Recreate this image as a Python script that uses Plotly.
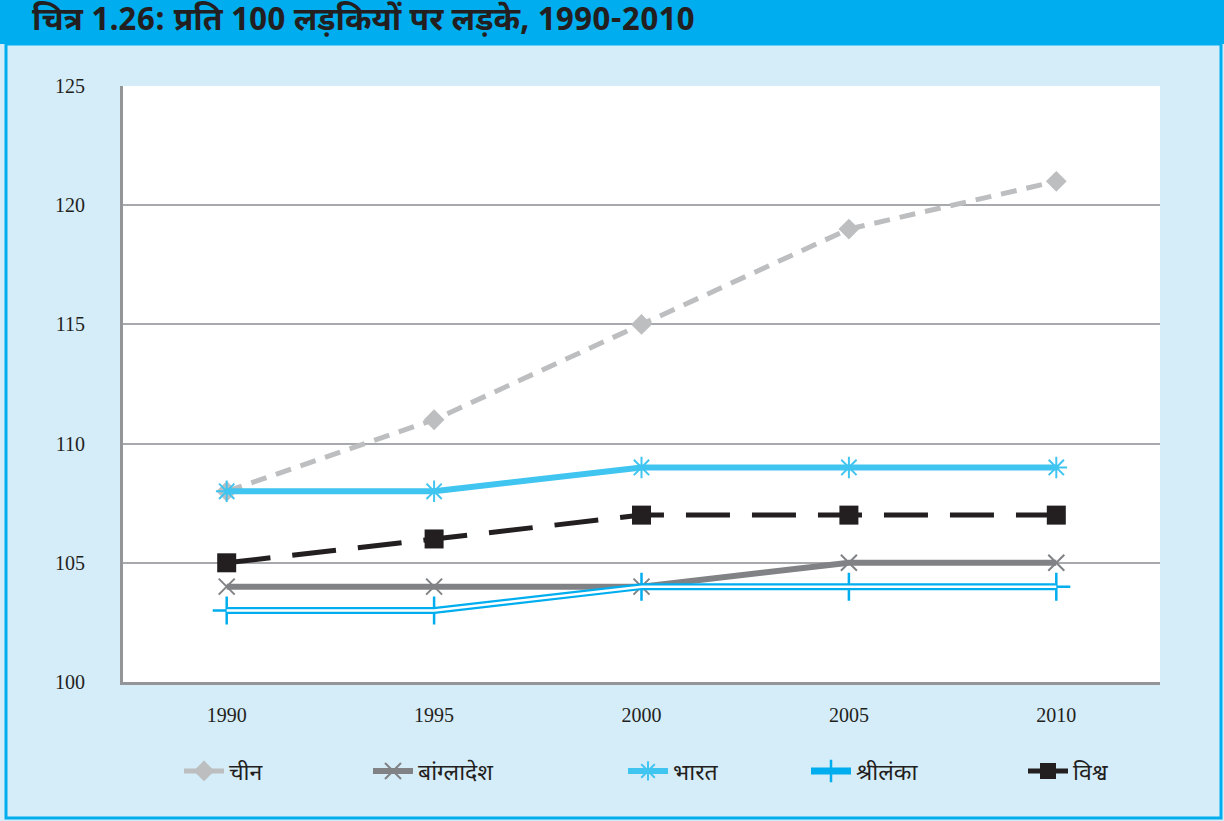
import plotly.graph_objects as go

years = ["1990", "1995", "2000", "2005", "2010"]
china = [108, 111, 115, 119, 121]
bangladesh = [104, 104, 104, 105, 105]
india = [108, 108, 109, 109, 109]
srilanka = [103, 103, 104, 104, 104]
world = [105, 106, 107, 107, 107]

title_text = "चित्र 1.26: प्रति 100 लड़कियों पर लड़के, 1990-2010"
names = ["चीन", "बांग्लादेश", "भारत", "श्रीलंका", "विश्व"]

W, H = 1224, 821
L, R, T, B = 123, 1160, 86, 682
PW, PH = R - L, B - T


def px(x):
    return (x - L) / PW


def py(y):
    return (B - y) / PH


DEV = "Noto Sans Devanagari, Noto Sans, Lohit Devanagari, sans-serif"
SERIF = "Liberation Serif, Times New Roman, serif"
DARK = "#231f20"

fig = go.Figure()

fig.add_trace(go.Scatter(
    x=years, y=china, name=names[0], mode="lines+markers",
    line=dict(color="#bcbec0", width=5, dash="16px,10px"),
    marker=dict(symbol="diamond", size=16, color="#bcbec0"),
    legend="legend"))
fig.add_trace(go.Scatter(
    x=years, y=bangladesh, name=names[1], mode="lines+markers",
    line=dict(color="#808285", width=6),
    marker=dict(symbol="x-thin-open", size=16, line=dict(color="#808285", width=2)),
    legend="legend2"))
fig.add_trace(go.Scatter(
    x=years, y=india, name=names[2], mode="lines+markers",
    line=dict(color="#40c4f0", width=6),
    marker=dict(symbol="asterisk-open", size=18, line=dict(color="#40c4f0", width=2)),
    legend="legend3"))
fig.add_trace(go.Scatter(
    x=years, y=srilanka, name=names[3], mode="lines+markers",
    line=dict(color="#00aeef", width=7),
    marker=dict(symbol="cross-thin-open", size=20, line=dict(color="#00aeef", width=2.5)),
    legend="legend4"))
fig.add_trace(go.Scatter(
    x=years, y=srilanka, name=names[3], mode="lines", showlegend=False,
    line=dict(color="white", width=2.5), hoverinfo="skip"))
fig.add_trace(go.Scatter(
    x=years, y=world, name=names[4], mode="lines+markers",
    line=dict(color=DARK, width=5, dash="44px,22px"),
    marker=dict(symbol="square", size=19, color=DARK),
    legend="legend5"))

leg_x = [179, 368, 623, 806, 1023]
leg_common = dict(orientation="h", yanchor="middle", xanchor="left",
                  font=dict(family=DEV, size=23, color=DARK),
                  bgcolor="rgba(0,0,0,0)", borderwidth=0, itemwidth=40)
legends = {}
for i, k in enumerate(["legend", "legend2", "legend3", "legend4", "legend5"]):
    legends[k] = dict(x=px(leg_x[i]), y=py(771), **leg_common)

shapes = [
    # title bar
    dict(type="rect", xref="paper", yref="paper", x0=px(0), x1=px(W), y0=py(0), y1=py(44),
         fillcolor="#00aeef", line=dict(width=0), layer="above"),
    # panel border
    dict(type="rect", xref="paper", yref="paper", x0=px(6), x1=px(1221), y0=py(44), y1=py(818),
         fillcolor="rgba(0,0,0,0)", line=dict(color="#00aeef", width=3), layer="above"),
]

annotations = [
    dict(text="<b>" + title_text + "</b>", xref="paper", yref="paper", x=px(30), y=py(22),
         xanchor="left", yanchor="middle", showarrow=False,
         font=dict(family=DEV, size=32, color=DARK)),
]

fig.update_layout(
    width=W, height=H,
    margin=dict(l=L, r=W - R, t=T, b=H - B, pad=0),
    paper_bgcolor="#d5ecf9", plot_bgcolor="white",
    showlegend=True,
    shapes=shapes, annotations=annotations,
    xaxis=dict(type="category", range=[-0.5, 4.5], showgrid=False, showline=True,
               linecolor="#939598", linewidth=3,
               ticks="", tickfont=dict(family=SERIF, size=20, color=DARK),
               ticklabelstandoff=13, fixedrange=True, zeroline=False),
    yaxis=dict(range=[100, 125], dtick=5, showgrid=True, gridcolor="#a7a9ac", gridwidth=2,
               showline=True, linecolor="#939598", linewidth=3, ticks="",
               tickfont=dict(family=SERIF, size=20, color=DARK), ticklabelstandoff=31,
               zeroline=False, fixedrange=True),
    **legends,
)

fig.write_html("out.html")
